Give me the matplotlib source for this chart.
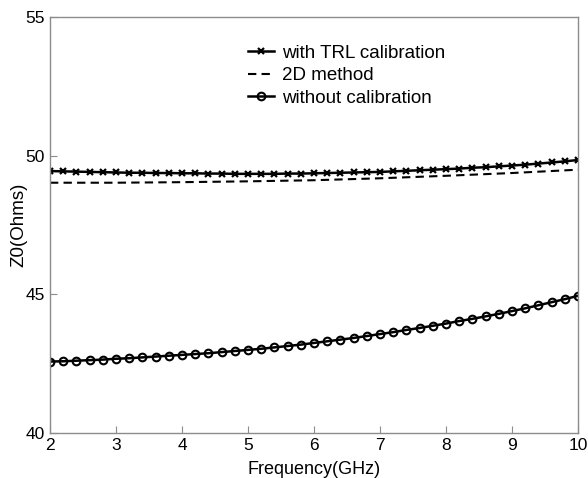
import numpy as np
import matplotlib
matplotlib.use("Agg")
import matplotlib.pyplot as plt

plt.rcParams["font.family"] = ["Liberation Sans", "DejaVu Sans"]

# frequency grid (GHz)
freq = np.arange(2.0, 10.01, 0.2)
freq_2d = [2, 3, 4, 5, 6, 7, 8, 9, 10]

z0_trl = [
    49.45, 49.44, 49.43, 49.42, 49.41, 49.40, 49.39, 49.39, 49.38, 49.38,
    49.37, 49.37, 49.36, 49.36, 49.35, 49.35, 49.35, 49.35, 49.36, 49.36,
    49.37, 49.38, 49.39, 49.40, 49.41, 49.42, 49.44, 49.46, 49.48, 49.50,
    49.52, 49.54, 49.57, 49.59, 49.62, 49.65, 49.68, 49.72, 49.76, 49.80,
    49.85,
]
z0_2d = [49.03, 49.03, 49.05, 49.08, 49.12, 49.19, 49.28, 49.38, 49.50]
z0_nocal = [
    42.58, 42.59, 42.61, 42.63, 42.65, 42.68, 42.70, 42.73, 42.76, 42.79,
    42.82, 42.85, 42.88, 42.92, 42.96, 43.00, 43.04, 43.09, 43.14, 43.19,
    43.25, 43.31, 43.37, 43.43, 43.50, 43.57, 43.64, 43.72, 43.79, 43.87,
    43.95, 44.04, 44.12, 44.21, 44.30, 44.40, 44.50, 44.61, 44.72, 44.83,
    44.95,
]

fig = plt.figure(figsize=(5.88, 4.78), dpi=100)
ax = fig.add_axes([0.085, 0.094, 0.898, 0.870])

ax.plot(freq, z0_trl, color="black", lw=1.8, marker="x", ms=4.5, mew=1.6,
        label="with TRL calibration")
ax.plot(freq_2d, z0_2d, color="black", lw=1.5, ls=(0, (4, 2.5)),
        label="2D method")
ax.plot(freq, z0_nocal, color="black", lw=1.8, marker="o", ms=5.5, mew=1.5,
        mfc="none", label="without calibration")

ax.set_xlim(2, 10)
ax.set_ylim(40, 55)
ax.set_xticks(range(2, 11))
ax.set_yticks([40, 45, 50, 55])

for s in ax.spines.values():
    s.set_color("#8c8c8c")
    s.set_linewidth(1.0)
ax.tick_params(direction="in", length=5, color="#8c8c8c", labelsize=12.5,
               top=False, right=False)

ax.set_xlabel("Frequency(GHz)", fontsize=13, labelpad=6)
ax.set_ylabel("Z0(Ohms)", fontsize=13.5)
ax.yaxis.set_label_coords(-0.043, 0.5)

ax.legend(loc="upper left", bbox_to_anchor=(0.351, 0.965), frameon=False,
          fontsize=13.5, handlelength=1.35, handletextpad=0.45,
          labelspacing=0.28, borderpad=0.2)

fig.savefig("out.png", dpi=100)
